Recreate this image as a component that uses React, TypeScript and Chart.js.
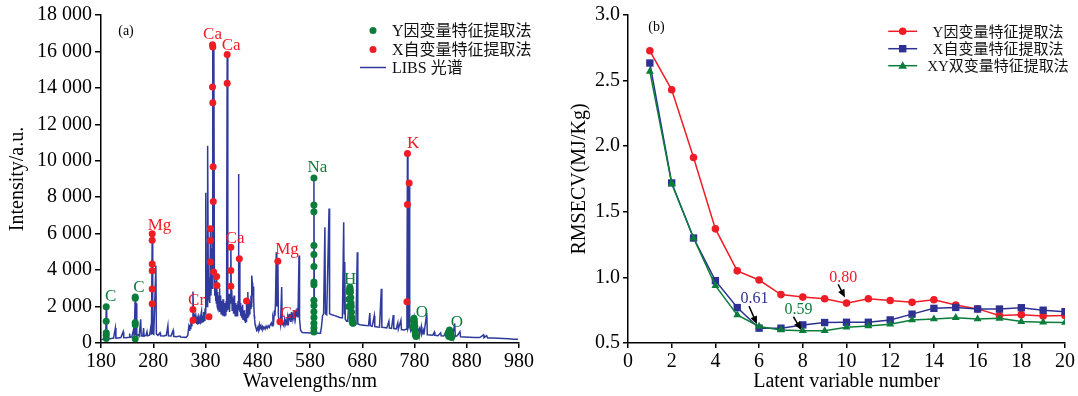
import React, { useEffect, useRef } from 'react';
import { Chart, registerables } from 'chart.js';
Chart.register(...registerables);

const FONT = "'Liberation Serif', 'Noto Sans CJK SC', serif";
const RED = '#ee1d25';
const GREEN = '#0b7d3b';
const BLUE = '#2e3192';
const SPEC = '#2f3a9c';

// ---------------- Panel (a): LIBS spectrum ----------------
// [wavelength nm, intensity a.u.]
const spectrumPoints: [number, number][] = [
  [180, 190], [184, 210], [187, 230], [189, 260], [190, 1990], [191, 260], [195, 240], [200, 250], [204, 270],
  [207.5, 820], [208.5, 270], [213, 280], [218, 300], [222.5, 620], [223.5, 300], [228, 290], [234, 320],
  [234.8, 520], [235.6, 310], [239, 340], [242.5, 760], [243.5, 380], [245.5, 2520], [246.5, 420],
  [247.5, 2180], [248.5, 420], [251, 450], [253, 380], [256, 1300], [257, 380], [260, 380], [261.5, 820],
  [262.5, 380], [266, 420], [268, 620], [269, 400], [273, 430], [275.5, 900], [276.5, 450], [278, 6000],
  [279, 520], [281, 480], [285, 4250], [286, 500], [289, 420], [293, 560], [294, 400], [300, 390], [305, 420],
  [308, 950], [309, 390], [314, 380], [318, 690], [319, 370], [324, 350], [331, 380], [332, 330], [338, 320],
  [343, 310], [346, 420], [348, 880], [349, 700], [350, 1000], [351, 800], [352, 1150], [353, 950], [354, 1400],
  [355, 1200], [356, 2820], [357.2, 1300], [358, 1600], [359, 1250], [360, 1450], [361, 1100], [362, 1350],
  [363, 1050], [364, 1250], [365, 1000], [366, 1300], [367, 1050], [368, 1400], [369, 1280], [370, 1100],
  [371, 1500], [372.5, 1750], [373.5, 1150], [374.5, 1500], [375.3, 1200], [376, 1350], [377, 1700],
  [378, 1250], [379, 1900], [379.5, 1600], [380.5, 8240], [381.5, 2200], [382.3, 3000], [383, 2000],
  [383.7, 2800], [384.5, 10830], [385.5, 2500], [386.2, 3600], [387, 2400], [387.8, 3400], [388.5, 2200],
  [389.5, 6300], [390.5, 2600], [391.5, 5200], [392.5, 3000], [393.4, 16370], [394.3, 3500], [395.2, 7800],
  [396, 16250], [397, 4000], [397.8, 2600], [398.5, 3400], [399.3, 2300], [400, 2900], [400.7, 2200],
  [401.3, 3700], [402.3, 2000], [403, 2800], [403.7, 1900], [404.5, 2600], [405.2, 1800], [406, 2400],
  [406.7, 3000], [407.5, 1700], [408.2, 2200], [409, 2600], [409.8, 1600], [410.5, 2300], [411.2, 1700],
  [412, 2100], [412.7, 1500], [413.5, 2400], [414.2, 1600], [415, 2000], [415.8, 1500], [416.5, 2200],
  [417.3, 1600], [418, 1900], [418.8, 1500], [419.5, 2300], [420.3, 1700], [421.5, 15830], [422.7, 1800],
  [423.5, 2500], [424.5, 1900], [425.3, 2700], [426, 1700], [427, 2600], [428.5, 5300], [429.5, 2200],
  [430.3, 2900], [431, 1800], [432, 2400], [433, 2300], [433.8, 1600], [434.6, 2600], [435.3, 1700],
  [436, 2000], [436.8, 1500], [437.6, 2200], [438.3, 1500], [439.1, 2100], [440, 1900], [440.8, 1500],
  [441.5, 1600], [442.3, 2300], [443, 9270], [444, 1800], [444.8, 4620], [445.8, 1700], [446.6, 2200],
  [447.3, 1500], [448, 2000], [448.8, 1400], [449.5, 1900], [450.3, 1400], [451, 2100], [451.8, 1300],
  [452.5, 1700], [453.3, 1300], [454, 1800], [454.8, 1200], [455.6, 1500], [456.3, 1100], [457, 1600],
  [457.7, 1200], [458.5, 2400], [459.5, 1400], [461, 2800], [462, 1500], [463, 2200], [464, 1600],
  [465, 2300], [466, 1900], [467, 2600], [467.8, 2000], [468.5, 3700], [469.5, 3300], [470.3, 2600],
  [471, 3100], [471.8, 2200], [472.5, 2400], [473.3, 1500], [474, 1300], [475, 1000], [476, 900], [478, 700],
  [480, 850], [481, 700], [483, 1000], [484, 800], [486, 950], [487, 780], [489, 900], [490, 750], [492, 880],
  [494, 760], [496, 920], [498, 800], [500, 950], [502, 850], [504, 1000], [506, 1100], [507.5, 950],
  [509, 1400], [510.5, 1200], [512, 1800], [513, 1500], [514, 2300], [515.5, 4980], [516.5, 2000],
  [518.5, 4490], [519.5, 1500], [521, 1200], [522.5, 1160], [523.5, 1000], [525.8, 3070], [526.8, 1000],
  [528, 1100], [530, 950], [531.5, 1300], [533, 1050], [534.5, 1250], [536, 1000], [537.5, 1400], [539, 1200],
  [540, 1600], [541, 1250], [542, 1500], [543, 1150], [544.5, 1700], [546, 1300], [547.5, 1550], [549, 1350],
  [550.5, 1800], [552, 1350], [553.5, 1700], [555, 1450], [556, 1900], [557, 1400], [559, 4800], [560, 1300],
  [562, 700], [565, 580], [570, 560], [575, 560], [580, 550], [585, 540], [586.5, 700], [587.5, 9050],
  [588.5, 800], [590, 540], [595, 530], [600, 530], [602, 900], [604, 1500], [606, 1600], [608.5, 6350],
  [609.5, 1600], [612, 1550], [616.5, 7380], [617.5, 1600], [622, 1550], [627, 1500], [632, 1450],
  [637, 1400], [642, 1380], [644.5, 6620], [645.5, 1600], [646.5, 4440], [647.5, 1300], [650, 1200],
  [652, 1200], [654, 2000], [655, 2800], [656.3, 3070], [657.5, 2800], [659, 2000], [660.5, 1200],
  [664, 1100], [668, 1050], [670.5, 4980], [671.5, 1050], [676, 1000], [682, 980], [688, 960], [692, 950],
  [694.5, 1640], [695.5, 950], [699, 920], [703, 1500], [704, 900], [709, 880], [713, 870], [716.5, 2980],
  [717.5, 860], [722, 850], [727, 830], [731, 1200], [732, 820], [736, 800], [739.4, 1530], [740.4, 790],
  [745, 770], [748, 1100], [749, 760], [754, 1250], [755, 740], [760, 720], [764, 750], [765.5, 2260],
  [766.5, 10400], [767.5, 800], [768.5, 900], [769.8, 8780], [770.8, 900], [773, 650], [777, 900],
  [779.5, 1360], [781, 700], [784, 520], [789, 800], [790, 480], [793, 900], [794, 470], [797, 700],
  [798, 460], [803.5, 1650], [804.5, 450], [810, 440], [815, 430], [818, 600], [819, 420], [825, 400],
  [830, 560], [831, 390], [836, 380], [840, 600], [841, 370], [845, 550], [847.5, 720], [849, 380],
  [852, 500], [853, 360], [857, 1070], [858, 350], [862, 400], [867, 620], [868, 340], [875, 330], [885, 320],
  [895, 300], [905, 300], [912, 450], [913, 290], [918, 400], [920, 280], [930, 270], [940, 260], [950, 250],
  [960, 230], [970, 210], [978, 200],
];

// Y-variable (dependent) selected features: green points
const yFeatureNm = [
  190, 190, 190, 190, 190,
  245.5, 245.5, 245.5, 245.5, 245.5,
  587.5, 587.5, 587.5, 587.5, 587.5, 587.5, 587.5, 587.5, 587.5, 587.5, 587.5, 587.5, 587.5, 587.5, 587.5,
  654, 654.5, 655, 655.6, 656.3, 657, 657.5, 658, 658.5, 659, 659.5, 660, 660.5, 661.5, 662.5,
  777, 778, 778.5, 779, 779.5, 780, 780.5, 781, 781.5, 782, 783,
  844, 845.5, 846, 847, 848.5, 850, 851,
];
const yFeatureIntensity = [
  1990, 1200, 560, 420, 250,
  2520, 2450, 1120, 1000, 230,
  9050, 7580, 7200, 5350, 4850, 4200, 3350, 3200, 2350, 2060, 1710, 1400, 1090, 820, 600,
  2000, 2400, 2800, 2950, 3070, 2950, 2800, 2500, 2200, 2000, 1700, 1400, 1200, 1100, 1080,
  900, 1200, 1300, 1360, 1250, 1100, 900, 700, 550, 420, 350,
  500, 600, 350, 720, 600, 400, 300,
];

// X-variable (independent) selected features: red points
const xFeatureNm = [
  278, 278, 278, 278, 278, 278,
  356, 356,
  393.4, 394, 393.4, 394, 394.6, 394.9, 389.5, 389.5, 389.5, 395.6, 401.3, 402, 386.7,
  421.5, 421.5,
  428.5, 428.5, 428.5,
  444.8, 458.5,
  518.5, 522.5,
  766.5, 769.8, 766.5, 765.5,
];
const xFeatureIntensity = [
  6000, 5640, 4330, 3960, 2960, 2150,
  1840, 1250,
  16370, 16240, 14050, 13180, 9670, 7760, 6270, 5620, 4440, 3890, 3650, 3160, 1440,
  15830, 14250,
  5250, 3980, 3110,
  4620, 2310,
  4490, 1160,
  10400, 8780, 7600, 2260,
];

// Element labels
const elementNames = ['C', 'C', 'Mg', 'Cr', 'Ca', 'Ca', 'Ca', 'Mg', 'Cr', 'Na', 'H', 'O', 'O', 'K'];
const elementMethod = ['Y', 'Y', 'X', 'X', 'X', 'X', 'X', 'X', 'X', 'Y', 'Y', 'Y', 'Y', 'X'];
const elementNm = [198.6, 252.7, 292, 363, 393.4, 429.2, 436.5, 536, 540, 594, 656.6, 794, 861, 777.5];
const elementIntensity = [2570, 3050, 6450, 2350, 16940, 16350, 5730, 5130, 1630, 9640, 3490, 1660, 1100, 10950];

const legendA = ['Y因变量特征提取法', 'X自变量特征提取法', 'LIBS 光谱'];

// ---------------- Panel (b): RMSECV ----------------
const latentVariables = [1, 2, 3, 4, 5, 6, 7, 8, 9, 10, 11, 12, 13, 14, 15, 16, 17, 18, 19, 20];
const rmsecvY = [2.727, 2.43, 1.914, 1.37, 1.05, 0.98, 0.869, 0.85, 0.837, 0.804, 0.837, 0.824, 0.81, 0.83, 0.79, 0.76, 0.71, 0.716, 0.706, 0.71];
const rmsecvX = [2.634, 1.72, 1.30, 0.975, 0.77, 0.613, 0.613, 0.638, 0.656, 0.658, 0.658, 0.676, 0.72, 0.764, 0.771, 0.759, 0.759, 0.769, 0.75, 0.739];
const rmsecvXY = [2.57, 1.715, 1.30, 0.937, 0.714, 0.626, 0.60, 0.593, 0.593, 0.62, 0.63, 0.643, 0.676, 0.683, 0.693, 0.683, 0.688, 0.663, 0.658, 0.656];
const legendB = ['Y因变量特征提取法', 'X自变量特征提取法', 'XY双变量特征提取法'];

const optimumText = ['0.80', '0.61', '0.59'];
const optimumTextX = [9.85, 5.79, 7.8];
const optimumTextY = [0.997, 0.839, 0.756];
const arrowFromX = [9.62, 5.54, 7.57];
const arrowFromY = [0.947, 0.781, 0.70];
const arrowToX = [9.93, 5.9, 7.93];
const arrowToY = [0.847, 0.643, 0.60];

const axisStyle = (tickLength: number) => ({
  grid: { display: true, drawOnChartArea: false, drawTicks: true, tickLength, color: '#000', lineWidth: 1.5 },
  border: { display: true, color: '#000', width: 1.5 },
});

const overlayA = {
  id: 'overlayA',
  afterDatasetsDraw(chart: any) {
    const { ctx, scales, chartArea } = chart;
    const x = scales.x;
    const y = scales.y;
    ctx.save();
    ctx.textAlign = 'center';
    ctx.textBaseline = 'middle';
    ctx.font = `17px ${FONT}`;
    elementNames.forEach((n, i) => {
      ctx.fillStyle = elementMethod[i] === 'Y' ? GREEN : RED;
      ctx.fillText(n, x.getPixelForValue(elementNm[i]), y.getPixelForValue(elementIntensity[i]));
    });
    ctx.fillStyle = '#000';
    ctx.font = `14px ${FONT}`;
    ctx.fillText('(a)', chartArea.left + 25, chartArea.top + 16);
    // legend
    const lx = chartArea.left + 272;
    const rows = [chartArea.top + 15.5, chartArea.top + 34.5, chartArea.top + 52.5];
    ctx.fillStyle = GREEN;
    ctx.beginPath(); ctx.arc(lx, rows[0], 3.5, 0, Math.PI * 2); ctx.fill();
    ctx.fillStyle = RED;
    ctx.beginPath(); ctx.arc(lx, rows[1], 3.5, 0, Math.PI * 2); ctx.fill();
    ctx.strokeStyle = SPEC; ctx.lineWidth = 1.5;
    ctx.beginPath(); ctx.moveTo(lx - 13, rows[2]); ctx.lineTo(lx + 13, rows[2]); ctx.stroke();
    ctx.fillStyle = '#111';
    ctx.font = `16px ${FONT}`;
    ctx.textAlign = 'left';
    legendA.forEach((t, i) => ctx.fillText(t, lx + 19, rows[i] + 1.5));
    ctx.restore();
  },
};

function drawMarker(ctx: any, kind: string, x: number, y: number, color: string) {
  ctx.fillStyle = color;
  ctx.beginPath();
  if (kind === 'circle') ctx.arc(x, y, 3.8, 0, Math.PI * 2);
  else if (kind === 'rect') ctx.rect(x - 3.7, y - 3.7, 7.4, 7.4);
  else { ctx.moveTo(x, y - 4.5); ctx.lineTo(x + 4.3, y + 3); ctx.lineTo(x - 4.3, y + 3); ctx.closePath(); }
  ctx.fill();
}

const overlayB = {
  id: 'overlayB',
  afterDatasetsDraw(chart: any) {
    const { ctx, scales, chartArea } = chart;
    const x = scales.x;
    const y = scales.y;
    ctx.save();
    ctx.textAlign = 'center';
    ctx.textBaseline = 'middle';
    const colors = [RED, BLUE, GREEN];
    ctx.font = `16px ${FONT}`;
    optimumText.forEach((t, i) => {
      ctx.fillStyle = colors[i];
      ctx.fillText(t, x.getPixelForValue(optimumTextX[i]), y.getPixelForValue(optimumTextY[i]));
      const x1 = x.getPixelForValue(arrowFromX[i]);
      const y1 = y.getPixelForValue(arrowFromY[i]);
      const x2 = x.getPixelForValue(arrowToX[i]);
      const y2 = y.getPixelForValue(arrowToY[i]);
      const a = Math.atan2(y2 - y1, x2 - x1);
      const hl = 8;
      ctx.strokeStyle = '#000';
      ctx.fillStyle = '#000';
      ctx.lineWidth = 1.5;
      ctx.beginPath();
      ctx.moveTo(x1, y1);
      ctx.lineTo(x2 - hl * 0.8 * Math.cos(a), y2 - hl * 0.8 * Math.sin(a));
      ctx.stroke();
      ctx.beginPath();
      ctx.moveTo(x2, y2);
      ctx.lineTo(x2 - hl * Math.cos(a) + 3.5 * Math.sin(a), y2 - hl * Math.sin(a) - 3.5 * Math.cos(a));
      ctx.lineTo(x2 - hl * Math.cos(a) - 3.5 * Math.sin(a), y2 - hl * Math.sin(a) + 3.5 * Math.cos(a));
      ctx.closePath();
      ctx.fill();
    });
    ctx.fillStyle = '#000';
    ctx.font = `14px ${FONT}`;
    ctx.fillText('(b)', chartArea.left + 28.5, chartArea.top + 12.5);
    // legend
    const kinds = ['circle', 'rect', 'triangle'];
    const lx = chartArea.left + 274.7;
    const rows = [chartArea.top + 16.3, chartArea.top + 33.7, chartArea.top + 50.7];
    kinds.forEach((k, i) => {
      ctx.strokeStyle = colors[i];
      ctx.lineWidth = 1.5;
      ctx.beginPath(); ctx.moveTo(lx - 14.5, rows[i]); ctx.lineTo(lx + 14.5, rows[i]); ctx.stroke();
      drawMarker(ctx, k, lx, rows[i], colors[i]);
    });
    ctx.fillStyle = '#111';
    ctx.font = `15px ${FONT}`;
    legendB.forEach((t, i) => ctx.fillText(t, chartArea.left + 370, rows[i] + 1.7));
    ctx.restore();
  },
};

function SpectrumChart() {
  const ref = useRef<HTMLCanvasElement>(null);
  useEffect(() => {
    const chart = new Chart(ref.current as HTMLCanvasElement, {
      type: 'scatter',
      data: {
        datasets: [
          {
            label: legendA[0],
            data: yFeatureNm.map((v, i) => ({ x: v, y: yFeatureIntensity[i] })),
            backgroundColor: GREEN,
            borderWidth: 0,
            pointRadius: 3.5,
            order: 1,
          },
          {
            label: legendA[1],
            data: xFeatureNm.map((v, i) => ({ x: v, y: xFeatureIntensity[i] })),
            backgroundColor: RED,
            borderWidth: 0,
            pointRadius: 3.5,
            order: 2,
          },
          {
            label: legendA[2],
            data: spectrumPoints.map(([nm, v]) => ({ x: nm, y: v })),
            showLine: true,
            borderColor: SPEC,
            borderWidth: 1.5,
            pointRadius: 0,
            tension: 0,
            order: 3,
          } as any,
        ],
      },
      options: {
        responsive: false,
        animation: false,
        events: [],
        layout: { padding: { top: 13, right: 26, bottom: 0, left: 0 } },
        plugins: { legend: { display: false }, tooltip: { enabled: false } },
        scales: {
          x: {
            type: 'linear',
            min: 180,
            max: 980,
            ...axisStyle(5),
            ticks: { stepSize: 100, color: '#000', font: { family: FONT, size: 20 }, padding: 2, maxRotation: 0, autoSkip: false },
            title: { display: true, text: 'Wavelengths/nm', color: '#000', font: { family: FONT, size: 20 }, padding: { top: 0, bottom: 2 } },
            afterFit: (s: any) => { s.height = 53; },
          },
          y: {
            min: 0,
            max: 18000,
            ...axisStyle(6),
            ticks: {
              stepSize: 2000,
              color: '#000',
              font: { family: FONT, size: 20 },
              padding: 3,
              callback: (v: any) => (v === 0 ? '0' : `${Math.round(v / 1000)} 000`),
            },
            title: { display: true, text: 'Intensity/a.u.', color: '#000', font: { family: FONT, size: 20 }, padding: { top: 6, bottom: 0 } },
            afterFit: (s: any) => { s.width = 101; },
          },
        },
      } as any,
      plugins: [overlayA],
    });
    return () => chart.destroy();
  }, []);
  return <canvas ref={ref} width={545} height={396} style={{ position: 'absolute', left: 0, top: 0 }} />;
}

function RmsecvChart() {
  const ref = useRef<HTMLCanvasElement>(null);
  useEffect(() => {
    const mk = (label: string, vals: number[], color: string, style: string, radius: number, order: number) => ({
      label,
      data: latentVariables.map((lv, i) => ({ x: lv, y: vals[i] })),
      showLine: true,
      borderColor: color,
      backgroundColor: color,
      pointBorderColor: color,
      pointBackgroundColor: color,
      borderWidth: 1.5,
      pointBorderWidth: 0,
      pointStyle: style,
      pointRadius: radius,
      tension: 0,
      order,
    });
    const chart = new Chart(ref.current as HTMLCanvasElement, {
      type: 'scatter',
      data: {
        datasets: [
          mk(legendB[0], rmsecvY, RED, 'circle', 3.8, 3),
          mk(legendB[1], rmsecvX, BLUE, 'rect', 5.2, 2),
          mk(legendB[2], rmsecvXY, GREEN, 'triangle', 4.6, 1),
        ] as any,
      },
      options: {
        responsive: false,
        animation: false,
        events: [],
        layout: { padding: { top: 12, right: 13, bottom: 0, left: 0 } },
        plugins: { legend: { display: false }, tooltip: { enabled: false } },
        scales: {
          x: {
            type: 'linear',
            min: 0,
            max: 20,
            ...axisStyle(5),
            ticks: { stepSize: 2, color: '#000', font: { family: FONT, size: 20 }, padding: 2, maxRotation: 0, autoSkip: false },
            title: { display: true, text: 'Latent variable number', color: '#000', font: { family: FONT, size: 20 }, padding: { top: 0, bottom: 2 } },
            afterFit: (s: any) => { s.height = 53; },
          },
          y: {
            min: 0.5,
            max: 3.0,
            ...axisStyle(5),
            ticks: {
              stepSize: 0.5,
              color: '#000',
              font: { family: FONT, size: 20 },
              padding: 3,
              callback: (v: any) => Number(v).toFixed(1),
            },
            title: { display: true, text: 'RMSECV(MJ/Kg)', color: '#000', font: { family: FONT, size: 20 }, padding: { top: 23, bottom: 0 } },
            afterFit: (s: any) => { s.width = 83; },
          },
        },
      } as any,
      plugins: [overlayB],
    });
    return () => chart.destroy();
  }, []);
  return <canvas ref={ref} width={533} height={396} style={{ position: 'absolute', left: 545, top: 0 }} />;
}

export default function App() {
  return (
    <div style={{ position: 'absolute', left: 0, top: 0, width: 1078, height: 396, background: '#fff', overflow: 'hidden' }}>
      <SpectrumChart />
      <RmsecvChart />
    </div>
  );
}
